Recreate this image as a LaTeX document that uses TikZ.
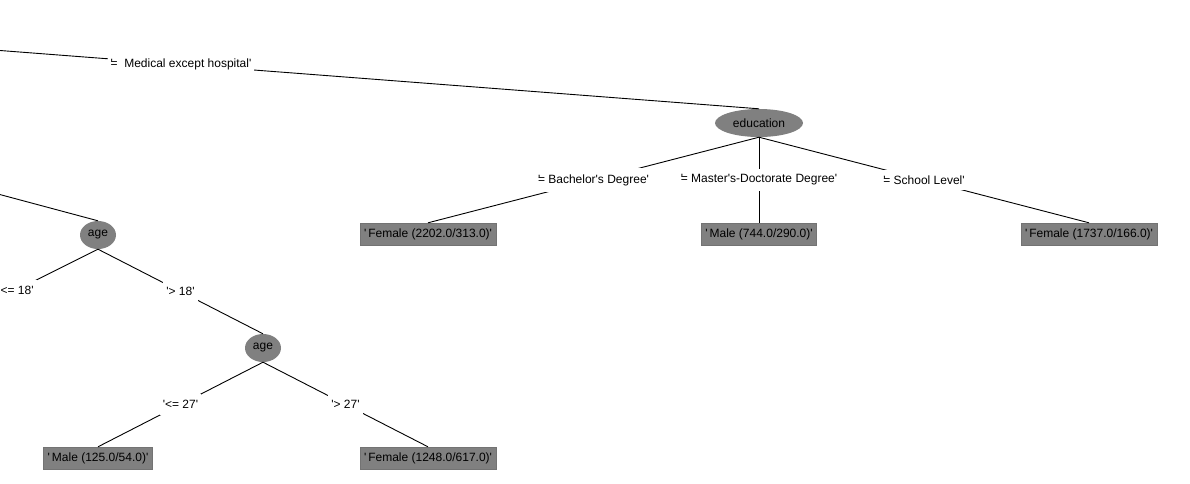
\documentclass[tikz,border=0pt]{standalone}
\usepackage{fontspec}
\setmainfont{Liberation Sans}
\usetikzlibrary{shapes.geometric}
\definecolor{wgray}{RGB}{128,128,128}
\newcommand{\q}{\textquotesingle}
\newcommand{\qeq}{\rlap{\q}=}
\tikzset{
  split/.style={ellipse, fill=wgray, inner sep=0pt, minimum height=28pt, font=\fontsize{12}{12}\selectfont},
  leaf/.style={rectangle, fill=wgray, draw=black!55, inner xsep=4pt, inner ysep=0pt, minimum height=22pt, font=\fontsize{12}{12}\selectfont},
  cond/.style={fill=white, inner xsep=3pt, inner ysep=6pt, font=\fontsize{12}{12}\selectfont},
  edge/.style={line width=0.9pt}
}
\begin{document}
\begin{tikzpicture}[x=1pt,y=-1pt]
\useasboundingbox (0,0) rectangle (1190,483);
\clip (0,0) rectangle (1190,483);

%%%%%%%%%%% splits
\node[split, minimum width=88pt] (edu) at (759,123) {education};
\node[split, minimum width=36pt] (agea) at (98,235) {age};
\node[split, minimum width=36pt] (ageb) at (263,348) {age};

%%%%%%%%%%% leaves
\node[leaf] (bach) at (428,234) {\q\,Female (2202.0/313.0)\q};
\node[leaf] (mast) at (759,234) {\q\,Male (744.0/290.0)\q};
\node[leaf] (school) at (1089,234) {\q\,Female (1737.0/166.0)\q};
\node[leaf] (young) at (98,458) {\q\,Male (125.0/54.0)\q};
\node[leaf] (old) at (428,458) {\q\,Female (1248.0/617.0)\q};

% parts of the tree outside the window
\coordinate (root) at (-397,20);
\coordinate (upper) at (-200,141);
\coordinate (teen) at (-66,331);

%%%%%%%%%%% edges
\draw[edge] (root) -- node[cond]{\qeq\ \ Medical except hospital\q} (edu.north);
% ---------------    education
\draw[edge] (edu.south) -- node[cond]{\qeq\ Bachelor\q s Degree\q} (bach.north);
\draw[edge] (edu.south) -- node[cond]{\qeq\ Master\q s-Doctorate Degree\q} (mast.north);
\draw[edge] (edu.south) -- node[cond]{\qeq\ School Level\q} (school.north);
% ---------------    age
\draw[edge] (upper) -- (agea.north);
\draw[edge] (agea.south) -- node[cond]{\q<= 18\q} (teen);
\draw[edge] (agea.south) -- node[cond]{\q> 18\q} (ageb.north);
% ---------------    age
\draw[edge] (ageb.south) -- node[cond]{\q<= 27\q} (young.north);
\draw[edge] (ageb.south) -- node[cond]{\q> 27\q} (old.north);
\end{tikzpicture}
\end{document}
